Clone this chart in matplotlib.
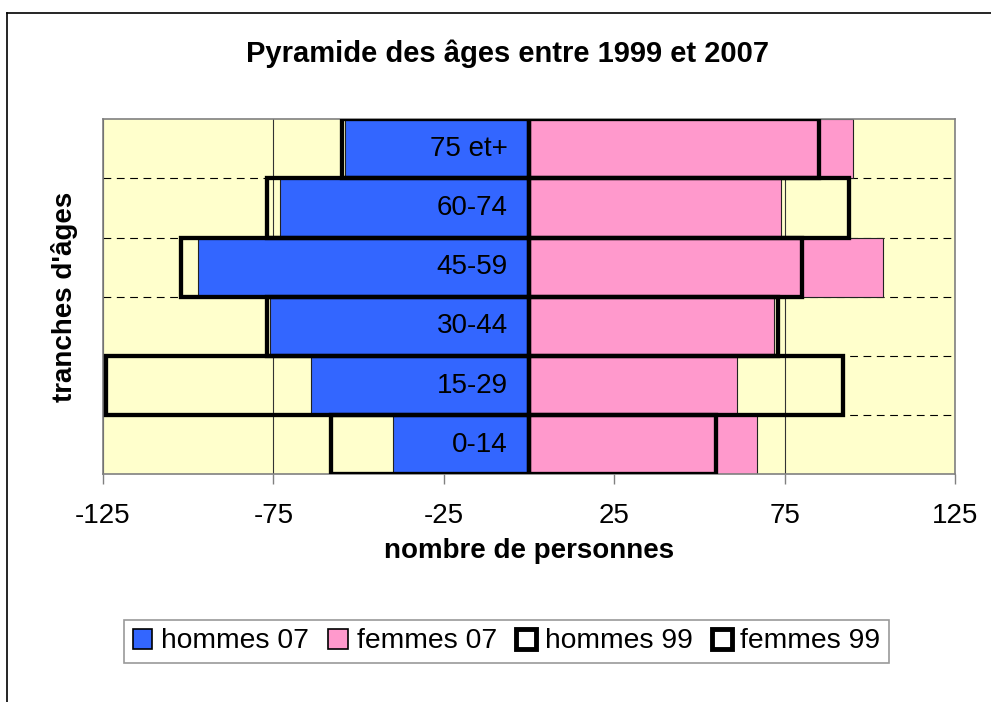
import matplotlib.pyplot as plt
import matplotlib.transforms as mtransforms
from matplotlib.lines import Line2D
from matplotlib.patches import Patch
import numpy as np

plt.rcParams['font.family'] = ['Liberation Sans', 'DejaVu Sans']
plt.rcParams['axes.unicode_minus'] = False

# Age groups, bottom to top
tranches = ["0-14", "15-29", "30-44", "45-59", "60-74", "75 et+"]
hommes_07 = [40, 64, 76, 97, 73, 54]
femmes_07 = [67, 61, 72, 104, 74, 95]
hommes_99 = [58, 124, 77, 102, 77, 55]
femmes_99 = [55, 92, 73, 80, 94, 85]
ticks = [-125, -75, -25, 25, 75, 125]

blue = "#3366FF"
pink = "#FF99CC"
bg = "#FFFFCC"

fig = plt.figure(figsize=(9.91, 7.02), dpi=100)
ax = fig.add_axes([103 / 991, 1 - 474.3 / 702, 852 / 991, 355 / 702])
ax.set_facecolor(bg)

y = np.arange(len(tranches))

# 2007 bars (filled)
ax.barh(y, -np.array(hommes_07), height=1.0, color=blue, edgecolor="#222222",
        linewidth=0.8, zorder=2)
ax.barh(y, femmes_07, height=1.0, color=pink, edgecolor="#222222",
        linewidth=0.8, zorder=2)
# 1999 bars (outline only)
ax.barh(y, -np.array(hommes_99), height=1.0, facecolor="none", edgecolor="black",
        linewidth=3.1, zorder=3)
ax.barh(y, femmes_99, height=1.0, facecolor="none", edgecolor="black",
        linewidth=3.1, zorder=3)

ax.set_xlim(-125, 125)
ax.set_ylim(-0.5, len(tranches) - 0.5)

# gridlines
for t in ticks:
    ax.axvline(t, color="#333333", linewidth=0.8, zorder=1)
for b in y[:-1] + 0.5:
    ax.axhline(b, color="black", linewidth=0.8, linestyle=(0, (7, 5)), zorder=1)

ax.set_xticks(ticks)
ax.set_xticklabels([str(t) for t in ticks], fontsize=20)
ax.tick_params(axis="x", direction="out", length=7, width=1, color="#808080", pad=14)
ax.set_yticks([])
for s in ax.spines.values():
    s.set_color("#808080")
    s.set_linewidth(1.2)

# category labels next to the zero axis
off = mtransforms.offset_copy(ax.transData, fig=fig, x=-21, y=0, units="dots")
for yi, lab in zip(y, tranches):
    ax.text(0, yi, lab, ha="right", va="center", fontsize=20, transform=off, zorder=4)

ax.set_xlabel("nombre de personnes", fontsize=20, fontweight="bold", labelpad=6)
fig.text(65 / 991, 1 - 297 / 702, "tranches d'âges", rotation=90, fontsize=20,
         fontweight="bold", ha="center", va="center")
fig.text(508 / 991, 1 - 54 / 702, "Pyramide des âges entre 1999 et 2007",
         fontsize=21, fontweight="bold", ha="center", va="center")

handles = [
    Patch(facecolor=blue, edgecolor="black", linewidth=1.2),
    Patch(facecolor=pink, edgecolor="black", linewidth=1.2),
    Patch(facecolor="white", edgecolor="black", linewidth=3.5),
    Patch(facecolor="white", edgecolor="black", linewidth=3.5),
]
labels = ["hommes 07", "femmes 07", "hommes 99", "femmes 99"]
leg = fig.legend(handles, labels, loc="center", bbox_to_anchor=(506.5 / 991, 1 - 641.5 / 702),
                 ncol=4, fontsize=20.3, frameon=True, fancybox=False, handlelength=0.7,
                 handleheight=0.7, handletextpad=0.3, columnspacing=0.7, borderpad=0.3,
                 borderaxespad=0)
leg.get_frame().set_edgecolor("#808080")
leg.get_frame().set_linewidth(1.2)

# chart area frame (left and top edges)
fig.add_artist(Line2D([7 / 991, 7 / 991], [0, 1 - 13 / 702], transform=fig.transFigure,
                      color="black", linewidth=1.2))
fig.add_artist(Line2D([7 / 991, 1], [1 - 13 / 702, 1 - 13 / 702], transform=fig.transFigure,
                      color="black", linewidth=1.2))

fig.savefig("out.png", dpi=100)
